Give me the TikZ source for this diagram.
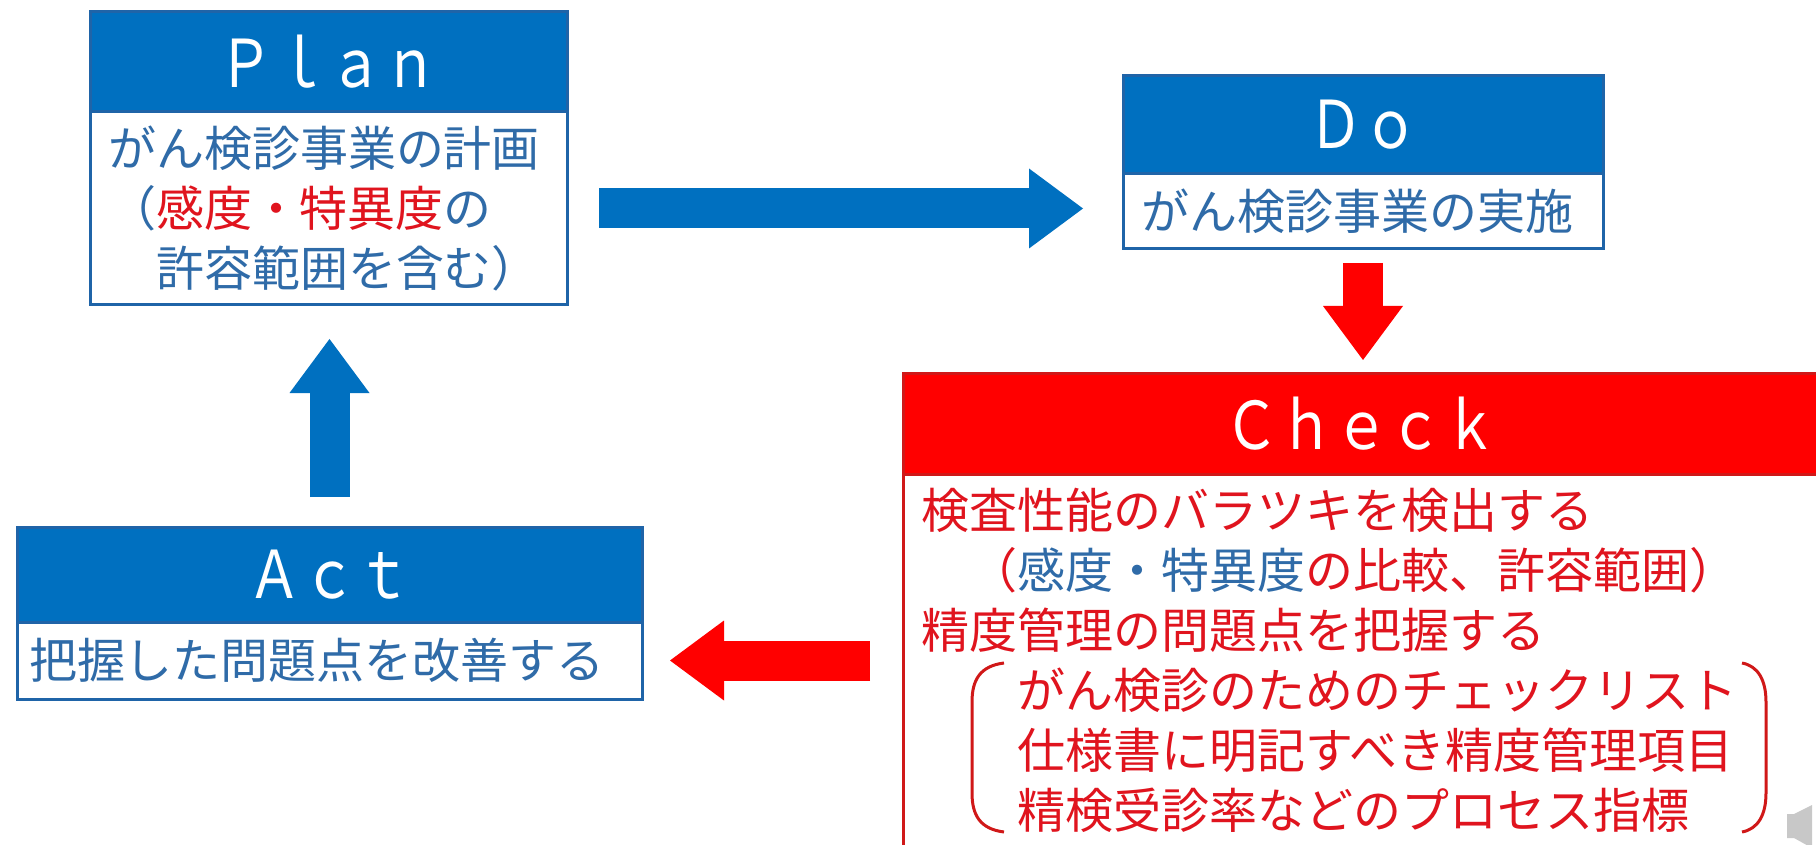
\documentclass[tikz,border=0pt]{standalone}
\usepackage{fontspec}
\setmainfont{Noto Sans CJK JP}
\usepackage{xcolor}
\usepackage{graphicx}
\usepackage{tikz}
\usetikzlibrary{arrows.meta, positioning}
\definecolor{pdcablue}{HTML}{0070C0}
\definecolor{pdcared}{HTML}{FF0000}
\definecolor{bluetext}{HTML}{2F6BA8}
\definecolor{redtext}{HTML}{E0141E}
\definecolor{blueline}{HTML}{1F64A8}
\definecolor{redline}{HTML}{D01818}
\definecolor{speakergray}{HTML}{C8C8C8}
\newcommand{\headtext}[1]{\scalebox{0.83}[1]{#1}}

\begin{document}
\begin{tikzpicture}[x=0.5pt, y=-0.5pt,
            every node/.style={outer sep=0pt},
            headbox/.style={fill=#1, draw=#1, line width=1.5pt,
            text=white,
            minimum height=50pt,
            inner sep=0pt,
            font=\fontsize{33}{33}\selectfont},
            bodybox/.style={draw=#1, line width=1.5pt,
            fill=white,
            inner xsep=9pt,
            inner ysep=0pt,
            align=left,
            font=\fontsize{24}{30}\selectfont},
            blockarrow/.style={draw=#1, line width=20pt,
            -{Triangle[length=27pt, width=40pt, line width=0pt]}}]
            \clip (0,0) rectangle (1816,845);
            \fill[white] (0,0) rectangle (1816,845);
            \node[headbox=pdcablue, draw=blueline, minimum width=238.5pt, anchor=north west] at (90,12) (planhead) {\headtext{Ｐｌａｎ}};
            \node[bodybox=blueline, text=bluetext, text width=220.5pt, minimum height=96.5pt, below=0pt of planhead] (planbody) {がん検診事業の計画\\（\textcolor{redtext}{感度・特異度}の\\　許容範囲を含む）};
            \node[headbox=pdcablue, draw=blueline, minimum width=240pt, minimum height=49pt, anchor=north west] at (1123,76) (dohead) {\headtext{Ｄｏ}};
            \node[bodybox=blueline, text=bluetext, text width=222pt, minimum height=37.5pt, below=0pt of dohead] (dobody) {がん検診事業の実施};
            \node[headbox=pdcared, draw=redline, minimum width=458.5pt, anchor=north west] at (903,374) (checkhead) {\headtext{Ｃｈｅｃｋ}};
            \node[bodybox=redline, text=redtext, text width=440.5pt, minimum height=186.5pt, below=0pt of checkhead] (checkbody) {検査性能のバラツキを検出する\\　（\textcolor{bluetext}{感度・特異度}の比較、許容範囲）\\精度管理の問題点を把握する\\　　がん検診のためのチェックリスト\\　　仕様書に明記すべき精度管理項目\\　　精検受診率などのプロセス指標};
            \node[headbox=pdcablue, draw=blueline, minimum width=312.5pt, minimum height=47.5pt, anchor=north west] at (17,527) (acthead) {\headtext{Ａｃｔ}};
            \node[bodybox=blueline, text=bluetext, inner xsep=6pt, text width=300.5pt, minimum height=38.5pt, below=0pt of acthead] (actbody) {把握した問題点を改善する};
            \draw[redline, line width=1.5pt] (1004,663) .. controls (980,666) and (972,680) .. (972,702) -- (972,793) .. controls (972,815) and (980,829) .. (1004,832);
            \draw[redline, line width=1.5pt] (1742,663) .. controls (1758,666) and (1766,680) .. (1766,702) -- (1766,793) .. controls (1766,815) and (1758,829) .. (1742,832);
            \draw[blockarrow=pdcablue, shorten <=16pt, shorten >=20pt] (planbody.east) -- (dobody.west |- planbody.east);
            \draw[blockarrow=pdcared, shorten <=7pt, shorten >=7pt] (dobody.south) -- (checkhead.north -| dobody.south);
            \draw[blockarrow=pdcared, shorten <=16.5pt, shorten >=14pt] (checkbody.west |- actbody.east) -- (actbody.east);
            \draw[blockarrow=pdcablue, shorten <=15pt, shorten >=17pt] (acthead.north) -- (planbody.south -| acthead.north);
            \fill[speakergray] (1787,814) -- (1794,814) -- (1812,805) -- (1812,848) -- (1794,838) -- (1787,838) -- cycle;
        \end{tikzpicture}
\end{document}
